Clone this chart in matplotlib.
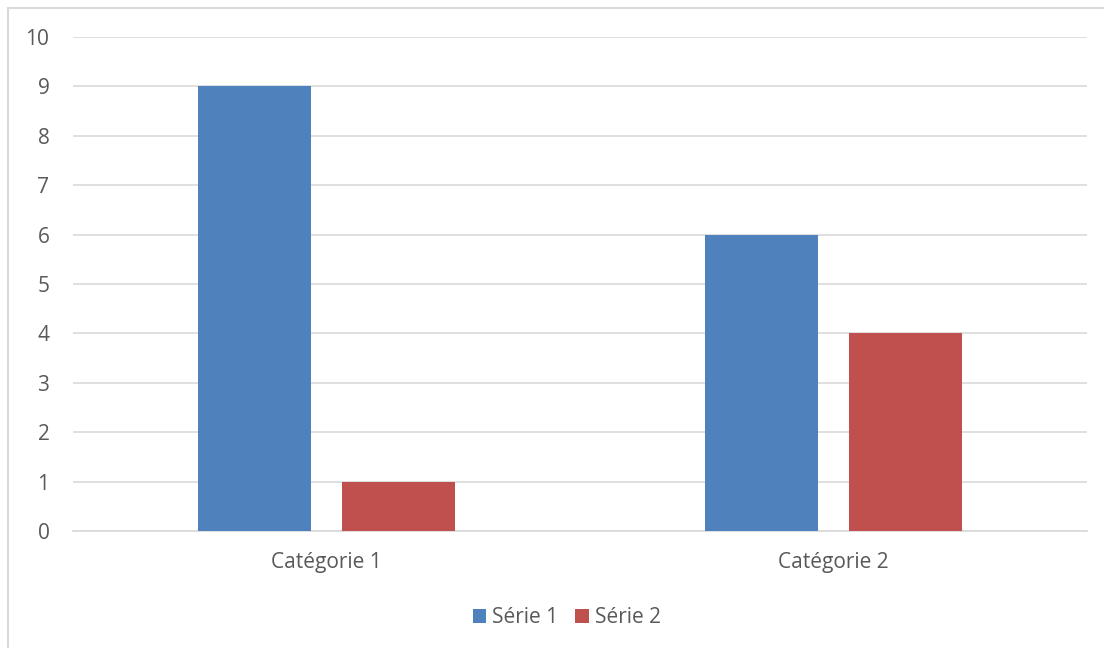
import matplotlib.pyplot as plt
from matplotlib.patches import Rectangle
import numpy as np

categories = ['Catégorie 1', 'Catégorie 2']
serie1 = [9, 6]
serie2 = [1, 4]
series_names = ['Série 1', 'Série 2']
colors = ['#4F81BD', '#C0504D']

plt.rcParams['font.family'] = ['Open Sans', 'DejaVu Sans']

fig = plt.figure(figsize=(11.04, 6.48), dpi=100)
W, H = 1104, 648
ax = fig.add_axes([73 / W, 1 - 531 / H, (1087 - 73) / W, (531 - 37) / H])

# chart frame (only top/left edges visible in the original)
fig.add_artist(Rectangle((8 / W, -0.1), 1.2, 1 - 8 / H + 0.1, transform=fig.transFigure,
                         fill=False, edgecolor='#D9D9D9', linewidth=1.5))

x = np.arange(len(categories))
width = 0.223
offset = 0.142
ax.bar(x - offset, serie1, width, color=colors[0], label=series_names[0], zorder=3)
ax.bar(x + offset, serie2, width, color=colors[1], label=series_names[1], zorder=3)

ax.set_xlim(-0.5, 1.5)
ax.set_ylim(0, 10)
ax.set_yticks(range(0, 11))
ax.set_xticks(x)
ax.set_xticklabels(categories)
ax.yaxis.grid(True, color='#D9D9D9', linewidth=1.2, zorder=0)
ax.set_axisbelow(True)
for s in ['top', 'right', 'left']:
    ax.spines[s].set_visible(False)
ax.spines['bottom'].set_color('#D9D9D9')
ax.spines['bottom'].set_linewidth(1.2)
ax.tick_params(axis='both', length=0, colors='#595959', labelsize=15)
ax.tick_params(axis='y', pad=17)
ax.tick_params(axis='x', pad=15)

leg = ax.legend(loc='center', bbox_to_anchor=(0.487, -0.176), ncol=2, frameon=False,
                fontsize=15, handlelength=0.65, handleheight=0.65, handletextpad=0.3,
                columnspacing=0.8)
for t in leg.get_texts():
    t.set_color('#595959')

fig.savefig('out.png', dpi=100)
